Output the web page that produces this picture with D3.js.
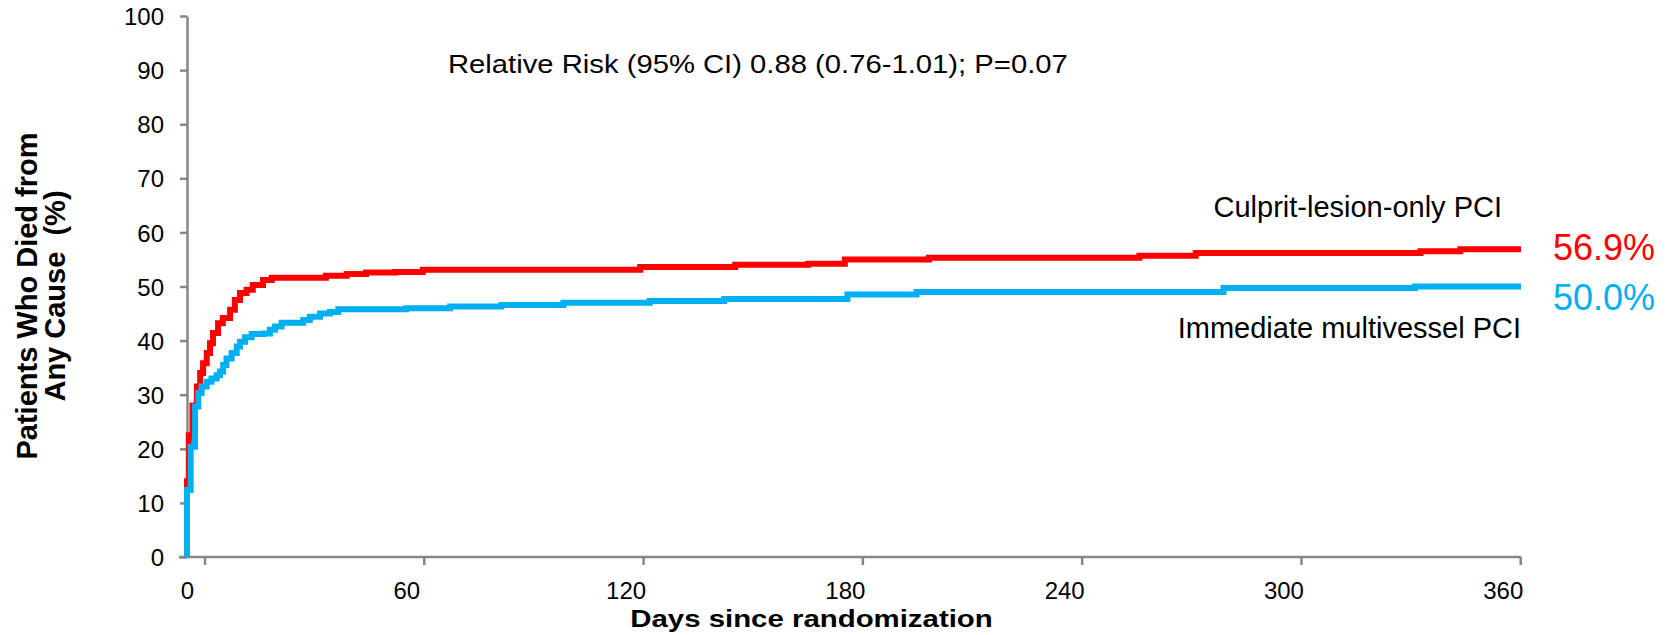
<!DOCTYPE html>
<html>
<head>
<meta charset="utf-8">
<script src="https://cdn.jsdelivr.net/npm/d3@7"></script>
<style>
  html, body { margin: 0; padding: 0; background: #fff; }
  svg { display: block; font-family: "Liberation Sans", Arial, sans-serif; }
</style>
</head>
<body>
<svg id="chart" width="1672" height="635"></svg>
<script>
// ---- data ----
const xTickValues = [0, 60, 120, 180, 240, 300, 360];
const yTickValues = [0, 10, 20, 30, 40, 50, 60, 70, 80, 90, 100];

const culpritDays = [0, 0, 0.5, 1.5, 2.7, 3.6, 4.4, 5.4, 6.3, 7.1, 8.5, 9.8, 11.8, 13.1, 14.5, 16.3, 18, 20.8, 23.2, 38,
  43.7, 49, 57, 64.5, 124, 150, 170, 180, 203, 260.6, 276, 337.5, 348.4, 365];
const culpritValues = [0, 14, 22.5, 28, 31.5, 34, 35.8, 37.7, 39.5, 41.4, 43.2, 44.2, 45.7, 47.5, 48.8, 49.4, 50.3, 51.2, 51.6, 52,
  52.3, 52.6, 52.7, 53.1, 53.6, 54, 54.2, 55, 55.3, 55.7, 56.2, 56.5, 56.9, 56.9];

const multiDays = [0, 0, 1, 2.2, 3.1, 4, 5.4, 6.7, 8.1, 9, 9.9, 10.8, 12.2, 13.6, 14.5, 15.9, 17.7, 20.9, 22.7, 24.1, 25.9,
  31.8, 33.6, 36.4, 39.1, 41.4, 60, 72, 86, 103, 126.6, 147, 180.7, 199.6, 283.6, 336, 365];
const multiValues = [0, 12.4, 20.4, 27.8, 30.3, 31.5, 32.4, 33, 33.6, 34.3, 35.5, 36.7, 37.7, 38.9, 39.8, 40.6, 41.2, 41.3, 42, 42.6, 43.3,
  43.8, 44.4, 45, 45.3, 45.8, 46, 46.3, 46.6, 47, 47.3, 47.7, 48.5, 49, 49.7, 50, 50];

const seriesNames = ["Culprit-lesion-only PCI", "Immediate multivessel PCI"];
const seriesEndLabels = ["56.9%", "50.0%"];
const seriesColors = ["#FF0000", "#00B0F0"];
const annotationText = "Relative Risk (95% CI) 0.88 (0.76-1.01); P=0.07";
const xTitle = "Days since randomization";
const yTitleLines = ["Patients Who Died from", "Any Cause  (%)"];

// ---- layout ----
const svg = d3.select("#chart");
const x = d3.scaleLinear().domain([0, 365]).range([187, 1521]);
const y = d3.scaleLinear().domain([0, 100]).range([557, 16]);
const axisColor = "#878787";
const tickOffset = 18; // tick marks sit slightly right of the labels

// y axis
const yAxis = svg.append("g").attr("transform", `translate(${x(0)},0)`)
  .call(d3.axisLeft(y).tickValues(yTickValues).tickSize(7).tickPadding(16).tickSizeOuter(0));
yAxis.select(".domain").attr("stroke", axisColor).attr("stroke-width", 2.5);
yAxis.selectAll(".tick line").attr("stroke", axisColor).attr("stroke-width", 2.5);
yAxis.selectAll(".tick text").attr("fill", "#000").style("font-size", "24px")
  .style("font-family", "'Liberation Sans', Arial, sans-serif").attr("dy", "0.36em");

// x axis (labels)
const xAxis = svg.append("g").attr("transform", `translate(0,${y(0)})`)
  .call(d3.axisBottom(x).tickValues(xTickValues).tickSize(0).tickPadding(25).tickSizeOuter(0));
xAxis.select(".domain").remove();
xAxis.selectAll(".tick text").attr("fill", "#000").style("font-size", "24px")
  .style("font-family", "'Liberation Sans', Arial, sans-serif");
// x axis line
svg.append("line")
  .attr("x1", x(0) - 8).attr("x2", x(365))
  .attr("y1", y(0)).attr("y2", y(0))
  .attr("stroke", axisColor).attr("stroke-width", 2.5);
// x tick marks
svg.append("g").selectAll("line").data(xTickValues).join("line")
  .attr("x1", d => Math.min(x(d) + tickOffset, x(365)))
  .attr("x2", d => Math.min(x(d) + tickOffset, x(365)))
  .attr("y1", y(0)).attr("y2", y(0) + 8)
  .attr("stroke", axisColor).attr("stroke-width", 2.5);

// ---- lines ----
const line = d3.line().x(d => x(d[0])).y(d => y(d[1])).curve(d3.curveStepAfter);
const series = [
  d3.zip(culpritDays, culpritValues),
  d3.zip(multiDays, multiValues)
];
series.forEach((s, i) => {
  svg.append("path").datum(s)
    .attr("d", line)
    .attr("fill", "none")
    .attr("stroke", seriesColors[i])
    .attr("stroke-width", 6)
    .attr("stroke-linejoin", "miter");
});

// ---- texts ----
svg.append("text")
  .attr("transform", "translate(448,73) scale(1.17,1)")
  .style("font-size", "25px").attr("fill", "#000").text(annotationText);

svg.append("text").attr("x", 1502).attr("y", 217).attr("text-anchor", "end")
  .style("font-size", "29px").attr("fill", "#000").text(seriesNames[0]);
svg.append("text").attr("x", 1521).attr("y", 338).attr("text-anchor", "end")
  .style("font-size", "29px").attr("fill", "#000").text(seriesNames[1]);

svg.append("text").attr("x", 1553).attr("y", 260)
  .style("font-size", "36px").attr("fill", seriesColors[0]).text(seriesEndLabels[0]);
svg.append("text").attr("x", 1553).attr("y", 310)
  .style("font-size", "36px").attr("fill", seriesColors[1]).text(seriesEndLabels[1]);

// axis titles
svg.append("text")
  .attr("transform", "translate(811.5,626.5) scale(1.2,1)")
  .attr("text-anchor", "middle")
  .style("font-size", "24.5px").style("font-weight", "bold").attr("fill", "#000").text(xTitle);

yTitleLines.forEach((t, i) => {
  svg.append("text")
    .attr("transform", `translate(${37 + i * 28},296) rotate(-90)`)
    .attr("text-anchor", "middle")
    .style("font-size", "29px").style("font-weight", "bold").style("white-space", "pre")
    .attr("fill", "#000").text(t);
});
</script>
</body>
</html>
